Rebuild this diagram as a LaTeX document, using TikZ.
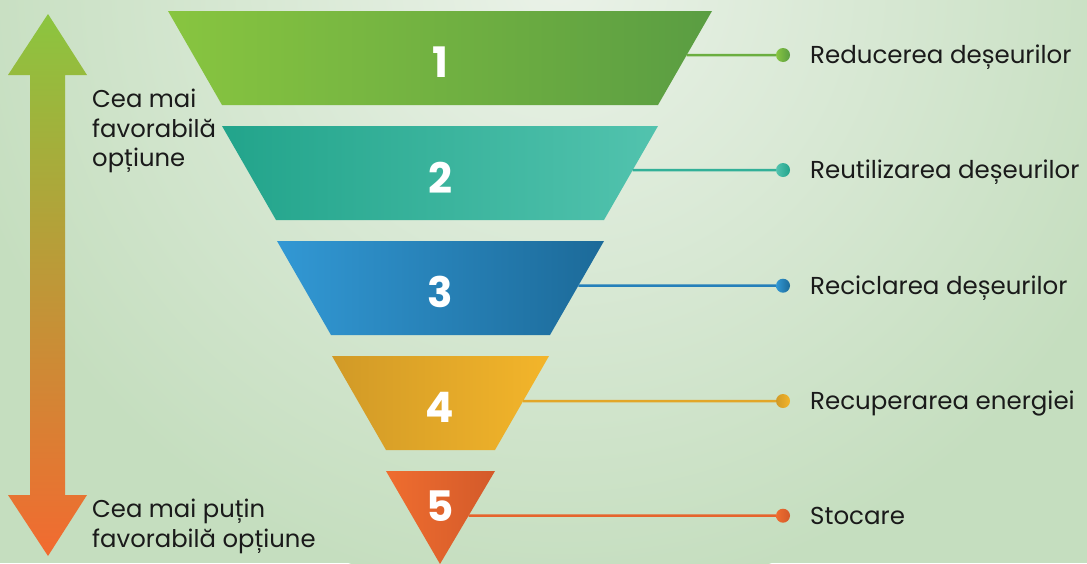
\documentclass[tikz,border=0pt]{standalone}
\usepackage{fontspec}
\setmainfont{Poppins}
\usetikzlibrary{calc}
\definecolor{bgbase}{HTML}{C5DEBF}
\definecolor{bglight}{HTML}{EAF2E8}
\definecolor{cAl}{HTML}{88C540}\definecolor{cAr}{HTML}{5A9D42}
\definecolor{cBl}{HTML}{22A48B}\definecolor{cBr}{HTML}{52C3AE}
\definecolor{cCl}{HTML}{3298D4}\definecolor{cCr}{HTML}{1C6A99}
\definecolor{cDl}{HTML}{D19A27}\definecolor{cDr}{HTML}{F3B52A}
\definecolor{cEl}{HTML}{EF6D2F}\definecolor{cEr}{HTML}{D35A2A}
\definecolor{lnA}{HTML}{6BAE40}\definecolor{lnB}{HTML}{32B098}
\definecolor{lnC}{HTML}{2580BA}\definecolor{lnD}{HTML}{E2A628}
\definecolor{lnE}{HTML}{E6642D}
\definecolor{arrtop}{HTML}{8BC53F}\definecolor{arrbot}{HTML}{F26A30}
\definecolor{txt}{HTML}{1A1A1A}
\begin{document}
\begin{tikzpicture}[x=1pt,y=-1pt,
  numlabel/.style={text=white,font=\fontsize{42}{42}\selectfont\bfseries,inner sep=0pt},
  itemlabel/.style={text=txt,font=\fontsize{24.5}{30}\selectfont,inner sep=0pt,anchor=base west},
  sidelabel/.style={text=txt,font=\fontsize{24.3}{29.5}\selectfont,inner sep=0pt,align=left,anchor=north west},
  dotnode/.style={circle,minimum size=14pt,inner sep=0pt},
  connector/.style={line width=2.5pt}]
\useasboundingbox (0,0) rectangle (1087,563);
% background
\begin{scope}
\clip (0,0) rectangle (1087,563);
\fill[bgbase] (0,0) rectangle (1087,563);
\shade[inner color=bglight,outer color=bgbase] (560,-20) circle (620);
\end{scope}
% left arrow
\shade[top color=arrtop,bottom color=arrbot]
  (48,14) -- (87,75) -- (65,75) -- (65,495) -- (87,495) -- (48,556)
  -- (8,495) -- (30,495) -- (30,75) -- (8,75) -- cycle;
\node[sidelabel] (best) at (92,89) {Cea mai\\favorabilă\\opțiune};
\node[sidelabel] (worst) at (92,499) {Cea mai puțin\\favorabilă opțiune};
% funnel layers
\coordinate (L1tl) at (168,11);  \coordinate (L1tr) at (712,11);
\coordinate (L1bl) at (222,105); \coordinate (L1br) at (658,105);
\coordinate (L2tl) at (222,126); \coordinate (L2tr) at (658,126);
\coordinate (L2bl) at (276,220); \coordinate (L2br) at (604,220);
\coordinate (L3tl) at (277,241); \coordinate (L3tr) at (604,241);
\coordinate (L3bl) at (331,335); \coordinate (L3br) at (550,335);
\coordinate (L4tl) at (332,356); \coordinate (L4tr) at (549,356);
\coordinate (L4bl) at (386,450); \coordinate (L4br) at (495,450);
\coordinate (L5tl) at (386,471); \coordinate (L5tr) at (495,471);
\coordinate (L5b) at (440,564);
\shade[left color=cAl,right color=cAr] (L1tl) -- (L1tr) -- (L1br) -- (L1bl) -- cycle;
\shade[left color=cBl,right color=cBr] (L2tl) -- (L2tr) -- (L2br) -- (L2bl) -- cycle;
\shade[left color=cCl,right color=cCr] (L3tl) -- (L3tr) -- (L3br) -- (L3bl) -- cycle;
\shade[left color=cDl,right color=cDr] (L4tl) -- (L4tr) -- (L4br) -- (L4bl) -- cycle;
\shade[left color=cEl,right color=cEr] (L5tl) -- (L5tr) -- (L5b) -- cycle;
\node[numlabel] (n1) at (440,62) {1};
\node[numlabel] (n2) at (440,178) {2};
\node[numlabel] (n3) at (440,292) {3};
\node[numlabel] (n4) at (440,407) {4};
\node[numlabel] (n5) at (440,506) {5};
% connector start points on the right edges
\coordinate (e1) at ($(L1tr)!44/94!(L1br)$);
\coordinate (e2) at ($(L2tr)!44/94!(L2br)$);
\coordinate (e3) at ($(L3tr)!44.7/94!(L3br)$);
\coordinate (e4) at ($(L4tr)!45/94!(L4br)$);
\coordinate (e5) at ($(L5tr)!44.7/93!(L5b)$);
% dots
\node[dotnode,left color=cAl,right color=cAr] (d1) at (783,55) {};
\node[dotnode,left color=cBr,right color=cBl] (d2) at (783,170) {};
\node[dotnode,left color=cCl,right color=cCr] (d3) at (783,285.7) {};
\node[dotnode,left color=cDl,right color=cDr] (d4) at (783,401) {};
\node[dotnode,left color=cEl,right color=cEr] (d5) at (783,515.7) {};
\draw[connector,lnA] (e1) -- (d1);
\draw[connector,lnB] (e2) -- (d2);
\draw[connector,lnC] (e3) -- (d3);
\draw[connector,lnD] (e4) -- (d4);
\draw[connector,lnE] (e5) -- (d5);
% labels
\node[itemlabel] (t1) at (810,63) {Reducerea deșeurilor};
\node[itemlabel] (t2) at (810,178) {Reutilizarea deșeurilor};
\node[itemlabel] (t3) at (810,294) {Reciclarea deșeurilor};
\node[itemlabel] (t4) at (810,409) {Recuperarea energiei};
\node[itemlabel] (t5) at (810,524) {Stocare};
\end{tikzpicture}
\end{document}
